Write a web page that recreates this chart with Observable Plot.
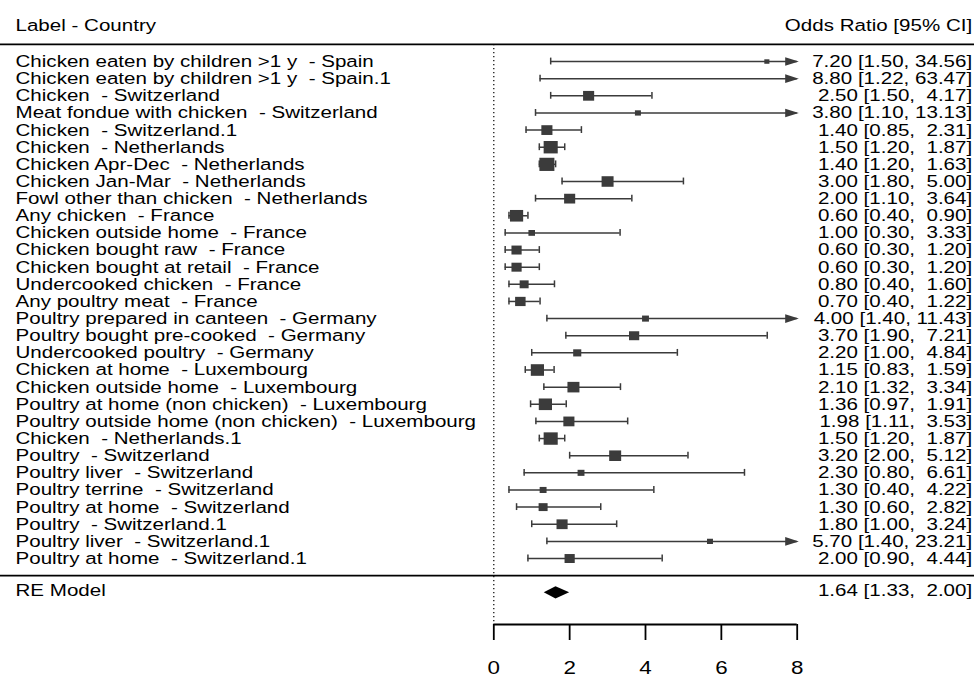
<!DOCTYPE html>
<html>
<head>
<meta charset="utf-8">
<script src="https://cdn.jsdelivr.net/npm/d3@7"></script>
<script src="https://cdn.jsdelivr.net/npm/@observablehq/plot@0.6"></script>
<style>
  html, body { margin: 0; padding: 0; background: white; }
  svg text { white-space: pre; }
</style>
</head>
<body>
<div id="chart"></div>
<script>
// ---- data ----
const studyLabels = [
  "Chicken eaten by children >1 y", "Chicken eaten by children >1 y", "Chicken",
  "Meat fondue with chicken", "Chicken", "Chicken", "Chicken Apr-Dec", "Chicken Jan-Mar",
  "Fowl other than chicken", "Any chicken", "Chicken outside home", "Chicken bought raw",
  "Chicken bought at retail", "Undercooked chicken", "Any poultry meat",
  "Poultry prepared in canteen", "Poultry bought pre-cooked", "Undercooked poultry",
  "Chicken at home", "Chicken outside home", "Poultry at home (non chicken)",
  "Poultry outside home (non chicken)", "Chicken", "Poultry", "Poultry liver",
  "Poultry terrine", "Poultry at home", "Poultry", "Poultry liver", "Poultry at home"
];
const countries = [
  "Spain", "Spain.1", "Switzerland", "Switzerland", "Switzerland.1", "Netherlands",
  "Netherlands", "Netherlands", "Netherlands", "France", "France", "France", "France",
  "France", "France", "Germany", "Germany", "Germany", "Luxembourg", "Luxembourg",
  "Luxembourg", "Luxembourg", "Netherlands.1", "Switzerland", "Switzerland",
  "Switzerland", "Switzerland", "Switzerland.1", "Switzerland.1", "Switzerland.1"
];
const oddsRatio = [7.20, 8.80, 2.50, 3.80, 1.40, 1.50, 1.40, 3.00, 2.00, 0.60, 1.00, 0.60, 0.60, 0.80, 0.70,
                   4.00, 3.70, 2.20, 1.15, 2.10, 1.36, 1.98, 1.50, 3.20, 2.30, 1.30, 1.30, 1.80, 5.70, 2.00];
const ciLower   = [1.50, 1.22, 1.50, 1.10, 0.85, 1.20, 1.20, 1.80, 1.10, 0.40, 0.30, 0.30, 0.30, 0.40, 0.40,
                   1.40, 1.90, 1.00, 0.83, 1.32, 0.97, 1.11, 1.20, 2.00, 0.80, 0.40, 0.60, 1.00, 1.40, 0.90];
const ciUpper   = [34.56, 63.47, 4.17, 13.13, 2.31, 1.87, 1.63, 5.00, 3.64, 0.90, 3.33, 1.20, 1.20, 1.60, 1.22,
                   11.43, 7.21, 4.84, 1.59, 3.34, 1.91, 3.53, 1.87, 5.12, 6.61, 4.22, 2.82, 3.24, 23.21, 4.44];
// approximate study weights (%), estimated from the square sizes
const weights   = [1.7, 1.3, 3.7, 2.0, 3.7, 4.7, 5.0, 4.0, 3.7, 4.4, 2.2, 3.4, 3.4, 3.0, 3.5,
                   2.3, 3.4, 2.7, 4.4, 4.0, 4.4, 3.7, 4.7, 4.0, 2.3, 2.3, 3.0, 3.7, 2.0, 3.4];
const reLabel = "RE Model";
const reEstimate = 1.64, reLower = 1.33, reUpper = 2.00;
const headerLeft = "Label - Country";
const headerRight = "Odds Ratio [95% CI]";
const xTicks = [0, 2, 4, 6, 8];

// ---- layout helpers (row units on the y scale) ----
const xMax = 8;
const headerRow = -1.1, topRuleRow = 0, sepRow = 31, reRow = 32, axisRow = 33.85;

const fmtHi = v => v.toFixed(2).padStart(5, " ");
const annot = (e, l, h) => `${e.toFixed(2)} [${l.toFixed(2)}, ${fmtHi(h)}]`;

const rows = studyLabels.map((s, i) => ({
  row: i + 1,
  label: `${s}  - ${countries[i]}`,
  est: oddsRatio[i], lo: ciLower[i], hi: ciUpper[i], w: weights[i],
  text: annot(oddsRatio[i], ciLower[i], ciUpper[i])
}));
const inRange = rows.filter(d => d.est <= xMax);
const capsLo = rows.filter(d => d.lo >= 0);
const capsHi = rows.filter(d => d.hi <= xMax);
const arrows = rows.filter(d => d.hi > xMax);

const diamond = [
  {x: reLower, y1: reRow, y2: reRow},
  {x: reEstimate, y1: reRow - 0.36, y2: reRow + 0.36},
  {x: reUpper, y1: reRow, y2: reRow}
];

const grey = "#3b3b3b";
const squareSym = {draw(ctx, size) { const s = Math.sqrt(size); const w = s, h = s * 0.88; ctx.rect(-w / 2, -h / 2, w, h); }};
const arrowSym = {draw(ctx) { ctx.moveTo(1.6, 0); ctx.lineTo(-12, -4.3); ctx.lineTo(-12, 4.3); ctx.closePath(); }};

const chart = Plot.plot({
  width: 974,
  height: 678,
  marginTop: 0, marginLeft: 0, marginRight: 0, marginBottom: 54,
  style: {fontFamily: "'Liberation Sans', Arial, sans-serif", fontSize: "17px", background: "white", color: "black"},
  x: {domain: [0, xMax], range: [493.3, 796.7]},
  y: {domain: [0, axisRow], range: [43.9, 624], axis: null},
  r: {type: "linear", domain: [0, 5], range: [0, 8.46]},
  marks: [
    // horizontal separators
    Plot.ruleY([topRuleRow, sepRow], {stroke: "black", strokeWidth: 1.6}),
    // reference line at 0
    Plot.ruleX([0], {x: d => d, y1: () => topRuleRow, y2: () => axisRow, stroke: "black", strokeWidth: 1.2, strokeDasharray: "1.4,2.6"}),
    // confidence intervals
    Plot.ruleY(rows, {y: "row", x1: "lo", x2: d => Math.min(d.hi, xMax), stroke: grey, strokeWidth: 1.5}),
    Plot.ruleX(capsLo, {x: "lo", y1: d => d.row - 0.2, y2: d => d.row + 0.2, stroke: grey, strokeWidth: 1.5}),
    Plot.ruleX(capsHi, {x: "hi", y1: d => d.row - 0.2, y2: d => d.row + 0.2, stroke: grey, strokeWidth: 1.5}),
    Plot.dot(arrows, {x: () => xMax, y: "row", r: 1, symbol: arrowSym, fill: grey, stroke: "none"}),
    // point estimates
    Plot.dot(inRange, {x: "est", y: "row", r: "w", symbol: squareSym, fill: grey, stroke: "none"}),
    // summary diamond
    Plot.areaY(diamond, {x: "x", y1: "y1", y2: "y2", fill: "black", curve: "linear"}),
    // text columns
    Plot.text(rows, {y: "row", text: "label", frameAnchor: "left", textAnchor: "start", dx: 15, fill: "black", fontSize: 17}),
    Plot.text(rows, {y: "row", text: "text", frameAnchor: "right", textAnchor: "end", dx: -2.3, fill: "black", fontSize: 17}),
    Plot.text([reLabel], {y: () => reRow, text: d => d, frameAnchor: "left", textAnchor: "start", dx: 15, dy: -2, fill: "black", fontSize: 17}),
    Plot.text([annot(reEstimate, reLower, reUpper)], {y: () => reRow, text: d => d, frameAnchor: "right", textAnchor: "end", dx: -2.3, dy: -2, fill: "black", fontSize: 17}),
    Plot.text([headerLeft], {y: () => headerRow, text: d => d, frameAnchor: "left", textAnchor: "start", dx: 15, fill: "black", fontSize: 17}),
    Plot.text([headerRight], {y: () => headerRow, text: d => d, frameAnchor: "right", textAnchor: "end", dx: -2.3, fill: "black", fontSize: 17}),
    // x axis
    Plot.ruleY([axisRow], {y: d => d, x1: () => 0, x2: () => xMax, stroke: "black", strokeWidth: 1.8}),
    Plot.axisX({ticks: xTicks, tickFormat: d => String(d), anchor: "bottom", tickSize: 16, tickPadding: 20, fontSize: 18.5, strokeWidth: 1.8, label: null, fill: "black"})
  ]
});

// horizontally widen the glyphs, as in the reference (scale about each text's x anchor)
const kx = 1.21;
const isNum = s => s != null && /^-?\d*\.?\d+(e-?\d+)?$/.test(s.trim());
chart.querySelectorAll("text").forEach(el => {
  const t = el.getAttribute("transform") || "";
  const xa = el.getAttribute("x");
  const x = isNum(xa) ? +xa : 0;
  el.setAttribute("transform", `${t} translate(${x},0) scale(${kx},1) translate(${-x},0)`);
});

document.getElementById("chart").appendChild(chart);
</script>
</body>
</html>
